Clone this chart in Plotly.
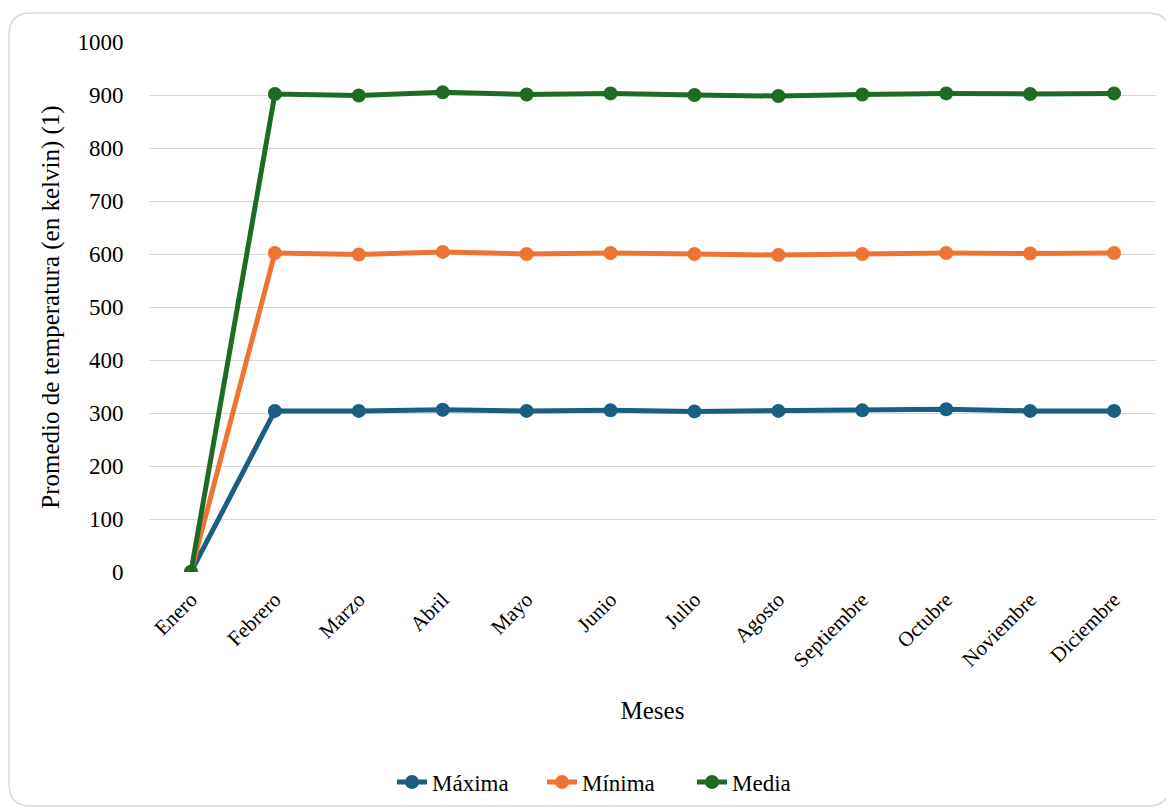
import plotly.graph_objects as go

meses = ["Enero", "Febrero", "Marzo", "Abril", "Mayo", "Junio", "Julio",
         "Agosto", "Septiembre", "Octubre", "Noviembre", "Diciembre"]
maxima = [0, 304, 304, 306, 304, 305, 303, 304, 305, 307, 304, 304]
minima = [0, 602, 599, 604, 600, 602, 600, 598, 600, 602, 601, 602]
media = [0, 902, 899, 905, 901, 903, 900, 898, 901, 903, 902, 903]

FONT = "Liberation Serif, Times New Roman, serif"
OFF = 8  # page body margin
W, H = 1174 - OFF, 810 - OFF
# plot area in page pixels: left 149, right 1156, top 42, bottom 572
L, T = 149 - OFF, 42 - OFF
R = (1174 - OFF) - (1156 - OFF)
B = H - (572 - OFF)
pw, ph = 1156 - 149, 572 - 42

fig = go.Figure()
for name, vals, col in [("Máxima", maxima, "#1a5e82"),
                        ("Mínima", minima, "#ed7433"),
                        ("Media", media, "#1e6b24")]:
    fig.add_trace(go.Scatter(x=meses, y=vals, name=name, mode="lines+markers",
                             line=dict(color=col, width=5),
                             marker=dict(color=col, size=14)))

def px_x(p):  # page px -> paper
    return (p - 149) / pw

def px_y(p):
    return (572 - p) / ph

x0, x1, y0, y1, r = 9, 1170, 13, 806, 22
path = (f"M {px_x(x0+r)},{px_y(y0)} L {px_x(x1-r)},{px_y(y0)} "
        f"Q {px_x(x1)},{px_y(y0)} {px_x(x1)},{px_y(y0+r)} "
        f"L {px_x(x1)},{px_y(y1-r)} Q {px_x(x1)},{px_y(y1)} {px_x(x1-r)},{px_y(y1)} "
        f"L {px_x(x0+r)},{px_y(y1)} Q {px_x(x0)},{px_y(y1)} {px_x(x0)},{px_y(y1-r)} "
        f"L {px_x(x0)},{px_y(y0+r)} Q {px_x(x0)},{px_y(y0)} {px_x(x0+r)},{px_y(y0)} Z")
fig.add_shape(type="path", path=path, xref="paper", yref="paper",
              line=dict(color="#d9d9d9", width=1.5), layer="below")

fig.update_layout(
    width=W, height=H,
    margin=dict(l=L, r=R, t=T, b=B, autoexpand=False),
    paper_bgcolor="white", plot_bgcolor="white",
    font=dict(family=FONT, size=22, color="#000000"),
    xaxis=dict(type="category", range=[-0.5, 11.5], tickangle=-45, showgrid=False,
               showline=False, zeroline=False, ticks="outside", ticklen=6,
               tickcolor="rgba(0,0,0,0)",
               tickfont=dict(family=FONT, size=21, color="#000000"),
               title=dict(text="Meses", font=dict(family=FONT, size=25, color="#000000"),
                          standoff=30),
               automargin=False),
    yaxis=dict(range=[0, 1000], dtick=100, showgrid=True, gridcolor="#d9d9d9",
               gridwidth=1.3, zeroline=False, showline=False,
               ticks="outside", ticklen=20, tickcolor="rgba(0,0,0,0)",
               tickfont=dict(family=FONT, size=23, color="#000000"),
               title=dict(text="Promedio de temperatura (en kelvin) (1)",
                          font=dict(family=FONT, size=25, color="#000000"), standoff=10),
               automargin=False),
    legend=dict(orientation="h", x=px_x(617), xanchor="center",
                y=px_y(782), yanchor="middle",
                font=dict(family=FONT, size=23, color="#000000"),
                bgcolor="rgba(0,0,0,0)", tracegroupgap=0, entrywidth=105),
    showlegend=True,
)

fig.write_html("out.html")
